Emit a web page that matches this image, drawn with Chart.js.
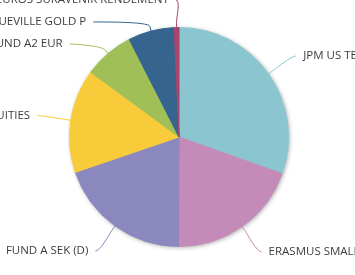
<!DOCTYPE html>
<html><head><meta charset="utf-8">
<script src="https://cdn.jsdelivr.net/npm/chart.js@4/dist/chart.umd.min.js"></script>
<style>html,body{margin:0;padding:0;background:#fff;overflow:hidden}#wrap{width:355px;height:275px;position:relative}</style>
</head><body><div id="wrap"><canvas id="c" width="355" height="275"></canvas></div>
<script>
const categories = ["JPM US TE", "ERASMUS SMALL", "FUND A SEK (D)", "UITIES", "UND A2 EUR", "QUEVILLE GOLD P", "EUROS SUKAVENIK RENDEMENT"];
const values = [30.4, 19.6, 19.7, 15.3, 7.4, 6.8, 0.7];
const colors = ["#8bc5d0", "#c48bb9", "#8a88bf", "#f8cb3b", "#a0bf57", "#35648f", "#a8446d"];

const shadowPlugin = {
  id: 'pieShadow',
  beforeDatasetsDraw(chart) {
    const a = chart.getDatasetMeta(0).data[0];
    if (!a) return;
    const ctx = chart.ctx;
    ctx.save();
    ctx.shadowColor = 'rgba(0,0,0,0.35)';
    ctx.shadowBlur = 4;
    ctx.shadowOffsetX = 1;
    ctx.shadowOffsetY = 1;
    ctx.fillStyle = '#ffffff';
    ctx.beginPath();
    ctx.arc(a.x, a.y, a.outerRadius, 0, Math.PI * 2);
    ctx.fill();
    ctx.restore();
  }
};

const labelPlugin = {
  id: 'pieLabels',
  afterDatasetsDraw(chart) {
    const arcs = chart.getDatasetMeta(0).data;
    const ctx = chart.ctx;
    const cx = arcs[0].x, cy = arcs[0].y, R = arcs[0].outerRadius;
    const dist = 31, xDist = 34, spacing = 22, pad = 7, off = 5, minY = 0;
    const items = arcs.map((a, i) => {
      const mid = (a.startAngle + a.endAngle) / 2;
      const c = Math.cos(mid), s = Math.sin(mid);
      const natY = cy + s * (R + dist);
      return { i, c, s, right: c >= 0, natY, y: natY, pushed: false };
    });
    [true, false].forEach(side => {
      const list = items.filter(it => it.right === side).sort((p, q) => p.natY - q.natY);
      let prev = -Infinity;
      list.forEach(it => {
        const need = prev + spacing;
        it.pushed = need > it.natY + 0.5;
        it.y = Math.max(it.natY, need, minY);
        prev = it.y;
      });
    });
    ctx.save();
    ctx.font = "11.5px 'Open Sans', 'Liberation Sans', Arial, sans-serif";
    ctx.textBaseline = 'middle';
    items.forEach(it => {
      const dir = it.right ? 1 : -1;
      let x;
      if (!it.pushed) {
        x = cx + it.c * (R + xDist);
      } else {
        const dy = it.y - cy;
        x = cx + dir * Math.sqrt(Math.max(0, (R + xDist) * (R + xDist) - dy * dy));
      }
      const T = { x: cx + it.c * R, y: cy + it.s * R };
      const B = { x: cx + it.c * (R + off), y: cy + it.s * (R + off) };
      ctx.strokeStyle = colors[it.i];
      ctx.lineWidth = 1;
      ctx.beginPath();
      ctx.moveTo(x, it.y);
      ctx.bezierCurveTo(x - dir * 5, it.y, 2 * B.x - T.x, 2 * B.y - T.y, B.x, B.y);
      ctx.lineTo(T.x, T.y);
      ctx.stroke();
      ctx.fillStyle = '#3d3d3d';
      ctx.textAlign = it.right ? 'left' : 'right';
      ctx.fillText(categories[it.i], x + dir * pad, it.y);
    });
    ctx.restore();
  }
};

new Chart(document.getElementById('c'), {
  type: 'pie',
  data: {
    labels: categories,
    datasets: [{
      data: values,
      backgroundColor: colors,
      borderColor: colors,
      borderWidth: 1,
      hoverOffset: 0
    }]
  },
  options: {
    responsive: false,
    devicePixelRatio: 1,
    animation: false,
    layout: { padding: { left: 69, right: 66, top: 27, bottom: 28 } },
    plugins: { legend: { display: false }, tooltip: { enabled: false } }
  },
  plugins: [shadowPlugin, labelPlugin]
});
</script>
</body></html>
